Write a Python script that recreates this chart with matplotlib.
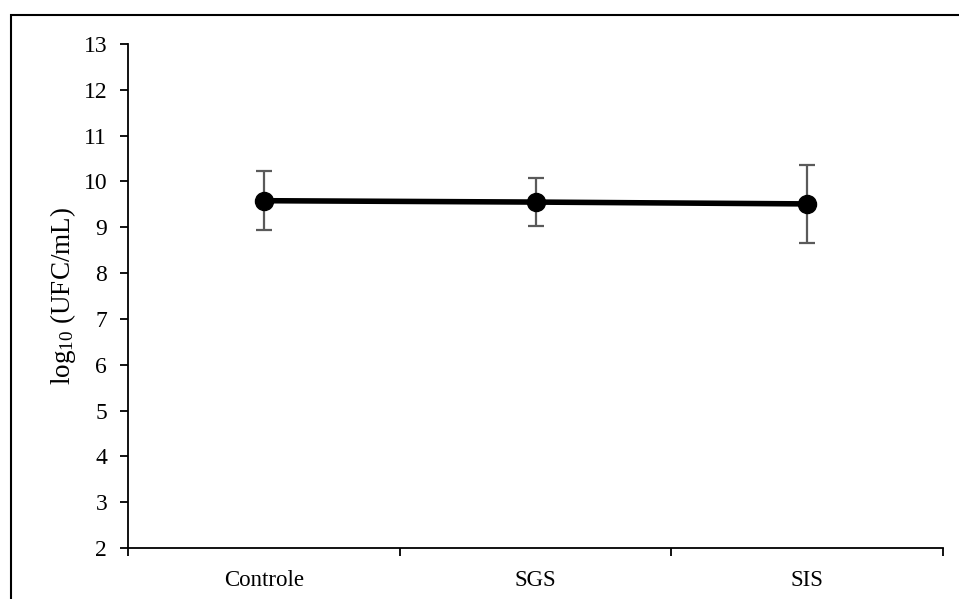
import matplotlib
matplotlib.use("Agg")
import matplotlib.pyplot as plt
from matplotlib.patches import Rectangle
import numpy as np

categories = ["Controle", "SGS", "SIS"]
means = [9.58, 9.55, 9.51]
errors = [0.64, 0.53, 0.85]
yticks = list(range(2, 14))

plt.rcParams['font.family'] = ['Liberation Serif', 'DejaVu Serif']
plt.rcParams['mathtext.fontset'] = 'custom'
plt.rcParams['mathtext.rm'] = 'Liberation Serif'
plt.rcParams['mathtext.it'] = 'Liberation Serif:italic'

fig = plt.figure(figsize=(9.59, 5.99), dpi=100)
ax = fig.add_axes([128/959, 51/599, (943-128)/959, (548-44)/599])

x = np.arange(len(categories))
ax.errorbar(x, means, yerr=errors, fmt='none', ecolor='#5a5a5a', elinewidth=1.6,
            capsize=6, capthick=1.6, zorder=2)
ax.plot(x, means, color='black', linewidth=4, marker='o', markersize=13,
        markerfacecolor='black', markeredgecolor='black', zorder=3)

ax.set_xlim(-0.5, len(categories) - 0.5)
ax.set_ylim(2, 13)
ax.set_yticks(yticks)
ax.set_yticklabels([str(v) for v in yticks])
ax.set_xticks(x)
ax.set_xticklabels(categories)
ax.set_xticks(np.arange(-0.5, len(categories), 1.0), minor=True)
ax.tick_params(axis='x', which='major', length=0, pad=16, labelsize=16.5)
ax.tick_params(axis='x', which='minor', length=6, width=1.3, direction='out')
ax.tick_params(axis='y', length=6, width=1.3, direction='out', labelsize=17, pad=9)

for s in ['top', 'right']:
    ax.spines[s].set_visible(False)
for s in ['left', 'bottom']:
    ax.spines[s].set_linewidth(1.3)

ax.set_ylabel(r'log$_{10}$ (UFC/mL)', fontsize=19.5, labelpad=4)

fig.patches.append(Rectangle((11/959, -0.1), 1.2, (599-15)/599 + 0.1,
                             transform=fig.transFigure, fill=False,
                             edgecolor='black', linewidth=1.5, zorder=0))

fig.savefig("out.png", dpi=100)
